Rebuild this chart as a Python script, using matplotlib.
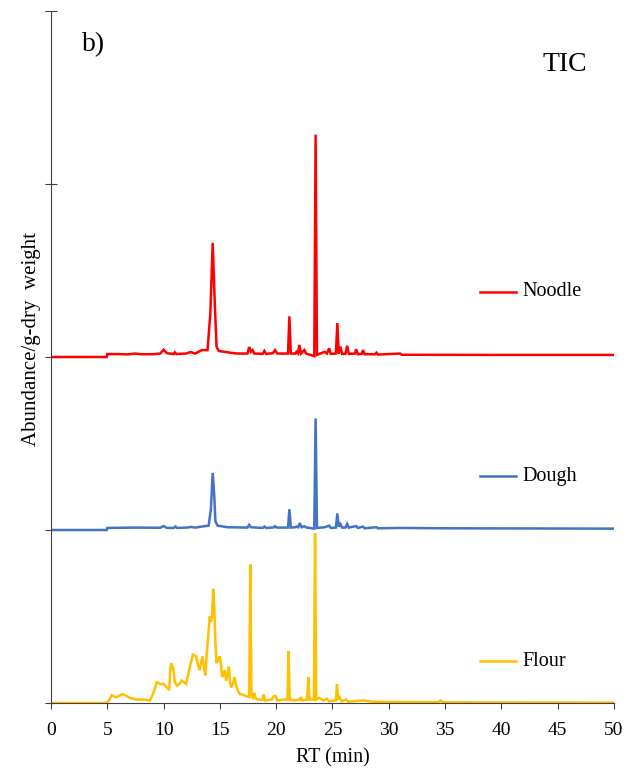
import matplotlib.pyplot as plt

plt.rcParams['font.family'] = ['Liberation Serif', 'DejaVu Serif']

# retention time (min) and abundance above each trace's own baseline
flour_rt = [0, 4.95, 5.2, 5.4, 5.8, 6.3, 6.6, 7.0, 7.6, 8.2, 8.8, 9.1, 9.4, 9.7, 10.0,
            10.3, 10.5, 10.6, 10.7, 10.85, 11.0, 11.2, 11.4, 11.6, 11.8, 12.0, 12.3, 12.6,
            12.9, 13.05, 13.2, 13.45, 13.6, 13.7, 13.85, 14.0, 14.1, 14.2, 14.3, 14.4, 14.5,
            14.6, 14.7, 14.8, 14.9, 15.0, 15.1, 15.2, 15.3, 15.45, 15.55, 15.7, 15.8, 15.9,
            16.0, 16.15, 16.3, 16.45, 16.6, 16.8, 17.0, 17.3, 17.6, 17.7, 17.8, 17.95, 18.05,
            18.2, 18.4, 18.8, 18.9, 19.0, 19.6, 19.8, 19.95, 20.1, 20.8, 21.0, 21.1, 21.2,
            21.6, 22.1, 22.2, 22.3, 22.75, 22.85, 22.95, 23.35, 23.45, 23.55, 23.8, 24.2,
            24.5, 24.7, 25.3, 25.4, 25.5, 25.6, 25.8, 26.2, 26.4, 27.1, 27.7, 28.5, 30.0,
            34.4, 34.6, 34.8, 40.0, 50.0]
flour_ab = [0, 0, 0.02, 0.045, 0.033, 0.05, 0.045, 0.03, 0.02, 0.02, 0.015, 0.06, 0.12, 0.11, 0.11,
            0.09, 0.075, 0.2, 0.23, 0.2, 0.12, 0.10, 0.11, 0.13, 0.12, 0.11, 0.2, 0.28,
            0.27, 0.22, 0.19, 0.27, 0.2, 0.16, 0.3, 0.42, 0.5, 0.47, 0.5, 0.66, 0.56,
            0.35, 0.23, 0.26, 0.24, 0.27, 0.22, 0.15, 0.16, 0.19, 0.13, 0.17, 0.21, 0.12,
            0.09, 0.11, 0.15, 0.1, 0.07, 0.05, 0.05, 0.04, 0.035, 0.80, 0.04, 0.03, 0.06,
            0.025, 0.02, 0.02, 0.05, 0.015, 0.02, 0.04, 0.04, 0.015, 0.02, 0.02, 0.30, 0.02,
            0.015, 0.02, 0.035, 0.015, 0.02, 0.15, 0.02, 0.02, 0.98, 0.02, 0.03, 0.015,
            0.025, 0.01, 0.015, 0.11, 0.02, 0.04, 0.01, 0.02, 0.008, 0.012, 0.015, 0.008, 0.006,
            0.005, 0.015, 0.004, 0.003, 0.002]

dough_rt = [0, 4.95, 5.0, 7.5, 9.7, 10.0, 10.3, 10.9, 11.05, 11.2, 12.1, 12.4, 12.8, 13.4,
            14.0, 14.2, 14.36, 14.5, 14.6, 14.8, 15.7, 17.45, 17.6, 17.75, 18.8, 18.95, 19.1,
            19.8, 19.9, 20.05, 21.05, 21.17, 21.3, 21.7, 21.8, 21.95, 22.1, 22.25, 22.5,
            22.65, 23.38, 23.5, 23.62, 24.3, 24.7, 24.85, 25.3, 25.43, 25.55, 25.7, 25.85,
            26.15, 26.3, 26.45, 27.1, 27.25, 27.7, 27.85, 28.9, 29.05, 31.0, 35.0, 50.0]
dough_ab = [0, 0, 0.012, 0.014, 0.013, 0.023, 0.012, 0.012, 0.02, 0.012, 0.014, 0.018, 0.014, 0.02,
            0.025, 0.12, 0.33, 0.2, 0.05, 0.025, 0.016, 0.014, 0.03, 0.016, 0.012, 0.02, 0.012,
            0.015, 0.022, 0.014, 0.014, 0.12, 0.014, 0.016, 0.02, 0.016, 0.04, 0.016, 0.022,
            0.015, 0.008, 0.645, 0.012, 0.016, 0.025, 0.012, 0.014, 0.096, 0.02, 0.035, 0.014,
            0.014, 0.035, 0.014, 0.023, 0.012, 0.02, 0.01, 0.016, 0.01, 0.012, 0.01, 0.008]

noodle_rt = [0, 4.95, 5.0, 6.0, 6.8, 7.5, 8.0, 9.0, 9.7, 10.0, 10.3, 10.9, 11.0, 11.15, 12.0,
             12.4, 12.8, 13.4, 13.9, 14.15, 14.36, 14.55, 14.7, 14.9, 15.7, 16.5, 17.45, 17.6,
             17.75, 17.9, 18.05, 18.8, 18.95, 19.1, 19.7, 19.9, 20.1, 21.05, 21.17, 21.3, 21.7,
             21.8, 21.95, 22.05, 22.2, 22.5, 22.65, 23.38, 23.5, 23.62, 24.3, 24.5, 24.7, 24.85,
             25.3, 25.43, 25.55, 25.7, 25.85, 26.15, 26.3, 26.45, 27.0, 27.1, 27.25, 27.6, 27.7,
             27.85, 28.8, 28.9, 29.05, 31.0, 31.15, 40.0, 50.0]
noodle_ab = [0, 0, 0.017, 0.017, 0.015, 0.02, 0.016, 0.016, 0.02, 0.042, 0.022, 0.017, 0.027, 0.017, 0.02,
             0.029, 0.02, 0.04, 0.04, 0.25, 0.66, 0.3, 0.06, 0.035, 0.027, 0.02, 0.02, 0.058,
             0.03, 0.04, 0.02, 0.018, 0.035, 0.018, 0.022, 0.04, 0.02, 0.02, 0.235, 0.02, 0.02,
             0.03, 0.02, 0.07, 0.02, 0.04, 0.02, 0.005, 1.285, 0.012, 0.03, 0.02, 0.05, 0.018,
             0.02, 0.196, 0.02, 0.06, 0.018, 0.018, 0.065, 0.018, 0.02, 0.045, 0.016, 0.018, 0.04,
             0.016, 0.016, 0.025, 0.014, 0.02, 0.013, 0.012, 0.012]

samples = ['Flour', 'Dough', 'Noodle']
colors = ['#FFC000', '#4472C4', '#FF0000']
traces = [(flour_rt, flour_ab), (dough_rt, dough_ab), (noodle_rt, noodle_ab)]

fig = plt.figure(figsize=(6.32, 7.69), dpi=100)
ax = fig.add_axes([0.0807, 0.0858, 0.8908, 0.8999])

# stack the traces one unit apart, each with its own key line + name
label_y = [0.0607, 0.328, 0.594]
for i, (name, c, (rt, ab)) in enumerate(zip(samples, colors, traces)):
    ax.plot(rt, [v + i for v in ab], color=c, lw=1.8, solid_joinstyle='miter')
    ax.plot([0.762, 0.826], [label_y[i], label_y[i]], color=c, lw=1.8,
            transform=ax.transAxes)
    ax.text(0.837, label_y[i], name, transform=ax.transAxes, fontsize=14.5,
            va='center', ha='left')

ax.set_xlim(0, 50)
ax.set_ylim(0, 4)
ax.set_xticks(range(0, 51, 5))
ax.set_yticks([0, 1, 2, 3, 4])
ax.set_yticklabels([])
ax.tick_params(axis='x', direction='out', length=4.5, labelsize=14, color='#404040', pad=9)
ax.tick_params(axis='y', direction='inout', length=8, color='#404040')

for side in ['top', 'right']:
    ax.spines[side].set_visible(False)
for side in ['left', 'bottom']:
    ax.spines[side].set_color('#404040')

ax.set_xlabel('RT (min)', fontsize=14.5, labelpad=7)
ax.set_ylabel('Abundance/g-dry  weight', fontsize=15)
ax.yaxis.set_label_coords(-0.018, 0.526)

ax.text(0.913, 0.923, 'TIC', transform=ax.transAxes, fontsize=20, ha='center', va='center')
ax.text(0.0545, 0.951, 'b)', transform=ax.transAxes, fontsize=20, ha='left', va='center')

fig.savefig('out.png', dpi=100)
